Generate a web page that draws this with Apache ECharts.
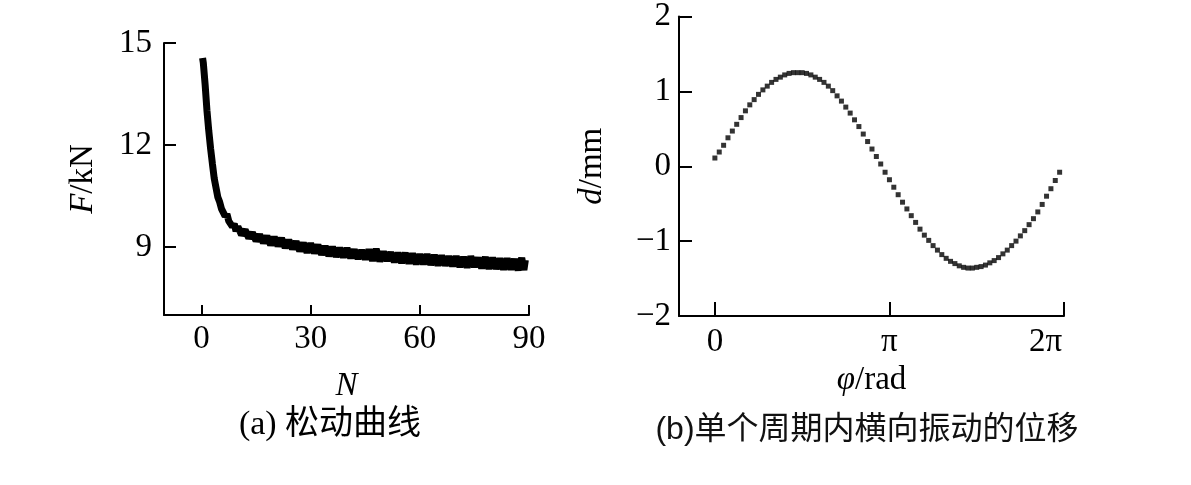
<!DOCTYPE html>
<html>
<head>
<meta charset="utf-8">
<script src="https://cdn.jsdelivr.net/npm/echarts@6/dist/echarts.min.js"></script>
<style>
html,body{margin:0;padding:0;background:#fff;}
#chart{width:1191px;height:485px;}
</style>
</head>
<body>
<div id="chart"></div>
<script>
// ---- (a) loosening curve: cycle number N vs clamp force F (kN)
const cycleN = [0.3,0.5,1.0,1.5,2.0,2.5,3.0,3.5,4.0,4.5,5.0,5.5,6.0,6.5,7.0,7.5,8.0,8.5,9.0,9.5,
  10,11,12,13,14,15,16,17,18,19,20,21,22,23,24,25,26,27,28,29,30,31,32,33,34,35,36,37,38,39,
  40,41,42,43,44,45,46,47,48,49,50,51,52,53,54,55,56,57,58,59,60,61,62,63,64,65,66,67,68,69,
  70,71,72,73,74,75,76,77,78,79,80,81,82,83,84,85,86,87,88,88.6,89];
const forceKN = [14.56,14.42,13.78,13.02,12.42,11.9,11.45,11.02,10.74,10.46,10.32,10.12,10.1,9.91,9.97,9.76,9.8,9.6,9.68,9.47,
  9.6,9.36,9.5,9.26,9.42,9.18,9.36,9.12,9.32,9.06,9.29,9.03,9.26,8.98,9.2,8.94,9.16,8.88,9.12,8.84,9.1,8.82,9.06,8.78,9.02,8.74,9.0,8.72,8.97,8.7,
  8.96,8.68,8.92,8.66,8.9,8.64,8.92,8.6,8.94,8.58,8.86,8.6,8.84,8.56,8.82,8.54,8.82,8.52,8.8,8.5,8.78,8.5,8.78,8.48,8.76,8.46,8.74,8.46,8.72,8.44,
  8.72,8.42,8.7,8.4,8.72,8.42,8.68,8.38,8.7,8.36,8.68,8.36,8.66,8.34,8.66,8.34,8.64,8.32,8.68,8.32,8.62];
const xTicksA = [0,30,60,90];
const yTicksA = [9,12,15];

// ---- (b) lateral displacement within one cycle: phase (deg) vs d (mm)
const phaseDeg = [0,4.5,9,13.5,18,22.5,27,31.5,36,40.5,45,49.5,54,58.5,63,67.5,72,76.5,81,85.5,
  90,94.5,99,103.5,108,112.5,117,121.5,126,130.5,135,139.5,144,148.5,153,157.5,162,166.5,171,175.5,
  180,184.5,189,193.5,198,202.5,207,211.5,216,220.5,225,229.5,234,238.5,243,247.5,252,256.5,261,265.5,
  270,274.5,279,283.5,288,292.5,297,301.5,306,310.5,315,319.5,324,328.5,333,337.5,342,346.5,351,355.5];
const dispMM = [0.11,0.19,0.28,0.38,0.47,0.56,0.65,0.74,0.82,0.89,0.96,1.02,1.07,1.12,1.16,1.19,1.22,1.24,1.25,1.25,
  1.25,1.24,1.22,1.19,1.16,1.12,1.07,1.01,0.94,0.87,0.79,0.71,0.62,0.53,0.43,0.33,0.23,0.13,0.03,-0.08,
  -0.18,-0.28,-0.38,-0.48,-0.57,-0.66,-0.75,-0.84,-0.92,-0.99,-1.06,-1.12,-1.18,-1.23,-1.27,-1.30,-1.33,-1.35,-1.36,-1.36,
  -1.35,-1.34,-1.32,-1.29,-1.26,-1.22,-1.17,-1.12,-1.06,-1.00,-0.93,-0.86,-0.78,-0.70,-0.61,-0.51,-0.40,-0.30,-0.19,-0.08];
const xTickValsB = [0,180,360];
const xTickLabelsB = ['0','π','2π'];
const yTicksB = [-2,-1,0,1,2];

const SERIF = "'Liberation Serif','Times New Roman',serif";
const FS = 33;
const black = '#000';

function axisCommon(extra) {
  return Object.assign({
    type: 'value',
    axisLine: {show: true, onZero: false, lineStyle: {color: black, width: 2}},
    splitLine: {show: false},
    nameTextStyle: {color: black, fontFamily: SERIF, fontSize: FS,
      rich: {i: {fontStyle: 'italic', fontFamily: SERIF, fontSize: FS, color: black}}}
  }, extra);
}
const minus = v => String(v).replace('-', '\u2212');

const option = {
  animation: false,
  backgroundColor: '#fff',
  grid: [
    {left: 164, top: 43, width: 365, height: 272},
    {left: 679, top: 15, width: 385, height: 301}
  ],
  xAxis: [
    axisCommon({gridIndex: 0, min: -10.3, max: 90,
      axisTick: {show: true, inside: true, length: 10, lineStyle: {color: black, width: 2}, customValues: xTicksA},
      axisLabel: {color: black, fontFamily: SERIF, fontSize: FS, margin: 8, customValues: xTicksA},
      name: '{i|N}', nameLocation: 'middle', nameGap: 55}),
    axisCommon({gridIndex: 1, min: -37, max: 360,
      axisTick: {show: true, inside: true, length: 14, lineStyle: {color: black, width: 2}, customValues: xTickValsB},
      axisLabel: {color: black, fontFamily: SERIF, fontSize: FS, margin: 10, customValues: xTickValsB,
        formatter: v => {
          const i = xTickValsB.indexOf(v);
          return i === 2 ? '{r|' + xTickLabelsB[i] + '}' : xTickLabelsB[i];
        },
        rich: {r: {fontFamily: SERIF, fontSize: FS, color: black, padding: [0, 37, 0, 0]}}},
      name: '{i|φ}/rad', nameLocation: 'middle', nameGap: 48})
  ],
  yAxis: [
    axisCommon({gridIndex: 0, min: 7, max: 15,
      axisTick: {show: true, inside: true, length: 12, lineStyle: {color: black, width: 2}, customValues: yTicksA},
      axisLabel: {color: black, fontFamily: SERIF, fontSize: FS, margin: 12, customValues: yTicksA},
      name: '{i|F}/kN', nameLocation: 'middle', nameRotate: 90, nameGap: 64}),
    axisCommon({gridIndex: 1, min: -2, max: 2, interval: 1,
      axisTick: {show: true, inside: true, length: 13, lineStyle: {color: black, width: 2}},
      axisLabel: {color: black, fontFamily: SERIF, fontSize: FS, margin: 8, formatter: minus},
      name: '{i|d}/mm', nameLocation: 'middle', nameRotate: 90, nameGap: 70})
  ],
  series: [
    {type: 'line', xAxisIndex: 0, yAxisIndex: 0, showSymbol: false, symbol: 'none',
      lineStyle: {color: black, width: 7, join: 'bevel'},
      data: cycleN.map((n, i) => [n, forceKN[i]])},
    {type: 'scatter', xAxisIndex: 1, yAxisIndex: 1, symbol: 'rect', symbolSize: 5,
      itemStyle: {color: black},
      data: phaseDeg.map((p, i) => [p, dispMM[i]])}
  ],
  graphic: [
    {type: 'text', x: 330, y: 425, style: {text: '(a) 松动曲线', fill: black,
      font: "34px 'Liberation Serif','Noto Sans CJK SC',serif", textAlign: 'center', textVerticalAlign: 'middle'}},
    {type: 'text', x: 867, y: 430, style: {text: '(b)单个周期内横向振动的位移', fill: '#111',
      font: "32px 'Liberation Sans','Noto Sans CJK SC',sans-serif", textAlign: 'center', textVerticalAlign: 'middle'}}
  ]
};

const chart = echarts.init(document.getElementById('chart'), null, {renderer: 'canvas'});
chart.setOption(option);
</script>
</body>
</html>
